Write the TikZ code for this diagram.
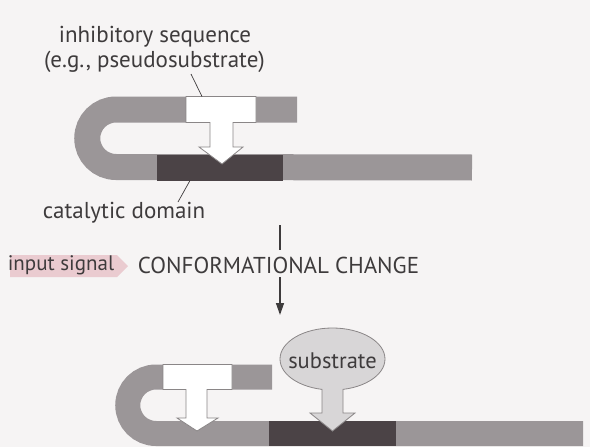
\documentclass[tikz,border=0pt]{standalone}
\usepackage{fontspec}
\setmainfont{PT Sans}
\usetikzlibrary{arrows.meta,shapes.geometric}
\definecolor{bg}{HTML}{F6F4F4}
\definecolor{bargray}{HTML}{9B9698}
\definecolor{darkbox}{HTML}{4B4346}
\definecolor{ink}{HTML}{3E3B3C}
\definecolor{edgegray}{HTML}{8A8687}
\definecolor{subst}{HTML}{D8D6D7}
\definecolor{pinkarrow}{HTML}{EACBD0}
\begin{document}
\begin{tikzpicture}[x=1pt,y=-1pt,
  lbl/.style={font=\fontsize{23}{26}\selectfont, text=ink, inner sep=0pt},
  barpath/.style={draw=bargray, line width=26pt},
  catbox/.style={fill=darkbox, draw=none, inner sep=0pt},
  tarrow/.style={fill=white, draw=edgegray, line width=0.8pt, line join=miter},
  leader/.style={draw=ink, line width=0.7pt},
  flow/.style={draw=ink, line width=1.4pt}]
\fill[bg] (0,0) rectangle (590,447);
\useasboundingbox (0,0) rectangle (590,447);

% ---------- top (inhibited) ----------
\draw[barpath] (297,109.5) -- (116,109.5) arc[start angle=270, end angle=90, radius=28.75] -- (472,167.5);
\node[catbox, minimum width=126pt, minimum height=26pt] (cat1) at (220,167.5) {};
\draw[tarrow] (186,96.5) -- (256,96.5) -- (256,122.5) -- (233,122.5) -- (233,147) -- (243,147)
  -- (222,164) -- (199,147) -- (210,147) -- (210,122.5) -- (186,122.5) -- cycle;
\coordinate (inhbox) at (202,96.5);

\node[lbl] (inh1) at (155,37) {inhibitory sequence};
\node[lbl] (inh2) at (154.5,62) {(e.g., pseudosubstrate)};
\coordinate (inhlead) at (191,74);
\draw[leader] (inhlead) -- (inhbox);

\node[lbl] (catlbl) at (124,213) {catalytic domain};
\coordinate (catlead) at (178,202);
\coordinate (catpt) at (190,180.5);
\draw[leader] (catlead) -- (catpt);

% ---------- middle ----------
\fill[pinkarrow] (10,255) -- (117,255) -- (128,266) -- (117,277) -- (10,277) -- cycle;
\node[lbl, font=\fontsize{21}{24}\selectfont] (input) at (61,265) {input signal};
\node[lbl] (conf) at (278.5,265) {CONFORMATIONAL CHANGE};
\coordinate (vtop) at (280,225);
\coordinate (vbot) at (280,315);
\draw[flow] (vtop) -- (280,250);
\draw[flow, -{Triangle[length=12pt,width=8pt]}] (280,277) -- (vbot);

% ---------- bottom (active) ----------
\draw[barpath, line width=25pt] (272,377) -- (156,377) arc[start angle=270, end angle=90, radius=28.25] -- (583,433.5);
\node[catbox, minimum width=127pt, minimum height=25pt] (cat2) at (332.5,433.5) {};
\draw[tarrow] (163,364.5) -- (232,364.5) -- (232,389.5) -- (207,389.5) -- (207,418) -- (218,418)
  -- (197,431) -- (177,418) -- (186,418) -- (186,389.5) -- (163,389.5) -- cycle;

\node[ellipse, fill=subst, draw=edgegray, line width=0.8pt, inner sep=0pt,
  minimum width=105pt, minimum height=62pt] (sub) at (332.5,359) {};
\node[lbl, font=\fontsize{22.5}{25}\selectfont] (subtxt) at (332.5,361) {substrate};
\draw[fill=subst, draw=edgegray, line width=0.8pt, line join=miter]
  (322,389) -- (322,413) -- (310,413) -- (332.5,431) -- (355,413) -- (343,413) -- (343,389);
\fill[subst] (322.6,384) rectangle (342.4,391);
\end{tikzpicture}
\end{document}
